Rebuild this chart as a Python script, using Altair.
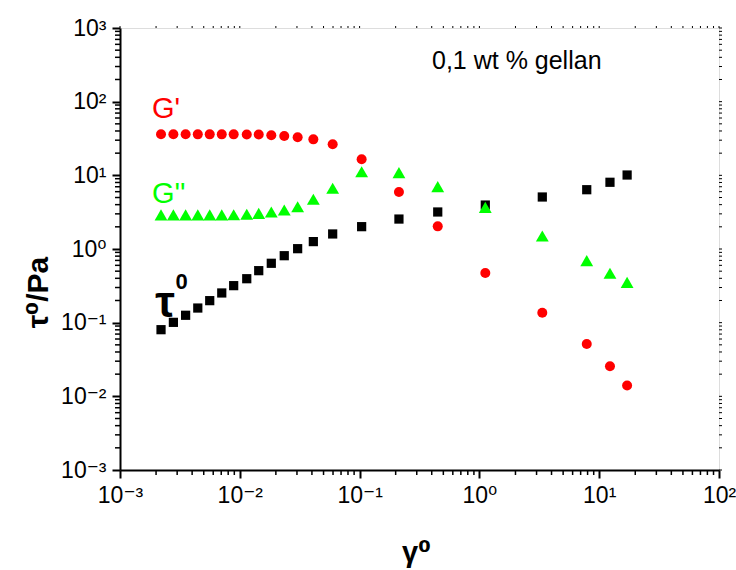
import math
import altair as alt
import pandas as pd

# strain amplitude (shared x for all series)
gamma = [0.00220, 0.00279, 0.00353, 0.00446, 0.00561, 0.00707, 0.00889, 0.01143,
         0.01439, 0.01832, 0.0235, 0.0304, 0.0411, 0.0596, 0.104, 0.213, 0.449,
         1.12, 3.35, 7.87, 12.3, 17.1]
g_storage = [36.2, 36.2, 36.2, 36.0, 36.0, 36.0, 36.0, 35.8, 35.8, 35.0, 34.2, 32.8,
             30.8, 26.4, 16.5, 5.94, 2.03, 0.472, 0.136, 0.0514, 0.0256, 0.0140]
g_loss = [2.90, 2.90, 2.90, 2.90, 2.90, 2.90, 2.92, 2.96, 3.05, 3.18, 3.38, 3.75,
          4.73, 6.67, 11.2, 10.9, 7.02, 3.68, 1.50, 0.694, 0.468, 0.353]
tau = [0.0803, 0.101, 0.126, 0.158, 0.199, 0.253, 0.318, 0.395, 0.508, 0.640, 0.811,
       1.01, 1.26, 1.60, 2.01, 2.55, 3.18, 3.95, 5.08, 6.38, 8.05, 10.1]

x_major = [1e-3, 1e-2, 1e-1, 1e0, 1e1, 1e2]
y_major = [1e-3, 1e-2, 1e-1, 1e0, 1e1, 1e2, 1e3]
x_minor = [k * 10.0 ** e for e in range(-3, 2) for k in range(2, 10)]
y_minor = [k * 10.0 ** e for e in range(-3, 3) for k in range(2, 10)]

# annotations (data coordinates)
ann_text = ["G'", "G''", "0,1 wt % gellan"]
ann_x = [0.00185, 0.00185, 0.402]
ann_y = [60.0, 4.22, 275.0]
ann_color = ["#FF0000", "#00FF00", "#000000"]
ann_size = [29, 29, 25]

tau_txt = ["τ"]
tau_txt_x = [0.00197]
tau_txt_y = [0.118]
zero_txt = ["0"]
zero_txt_x = [0.00290]
zero_txt_y = [0.29]

W, H = 599, 442
FONT = "Liberation Sans, DejaVu Sans, Arial"

sup = {-3: "⁻³", -2: "⁻²", -1: "⁻¹", 0: "⁰", 1: "¹", 2: "²", 3: "³"}


def label_expr(vals):
    parts = [(v * 3, "10" + sup[int(round(math.log10(v)))]) for v in vals]
    expr = ""
    for thr, lab in parts[:-1]:
        expr += f"datum.value < {thr} ? '{lab}' : "
    expr += f"'{parts[-1][1]}'"
    return expr


xscale = alt.Scale(type="log", domain=[1e-3, 1e2], nice=False)
yscale = alt.Scale(type="log", domain=[1e-3, 1e3], nice=False)

common_axis = dict(grid=False, domainColor="black", domainWidth=2, tickColor="black",
                   tickWidth=2, tickSize=8, labelColor="black", labelFont=FONT,
                   labelFontSize=23, titleFont=FONT, titleFontWeight="bold",
                   titleColor="black")

xaxis = alt.Axis(values=x_major, labelExpr=label_expr(x_major), title="γ⁰",
                 titleFontSize=29, titleX=296, titleY=82, titleBaseline="middle",
                 labelPadding=6, labelFlush=False, **common_axis)
yaxis = alt.Axis(values=y_major, labelExpr=label_expr(y_major), title="τ⁰/Pa",
                 titleFontSize=30, titleX=-82, titleY=264, titleAngle=270,
                 titleAlign="center", titleBaseline="middle",
                 labelPadding=6, labelFlush=False, **common_axis)


def X(field="x"):
    return alt.X(f"{field}:Q", scale=xscale, axis=xaxis)


def Y(field="y"):
    return alt.Y(f"{field}:Q", scale=yscale, axis=yaxis)


df_tau = pd.DataFrame({"x": gamma, "y": tau})
df_gs = pd.DataFrame({"x": gamma, "y": g_storage})
df_gl = pd.DataFrame({"x": gamma, "y": g_loss})

tau_layer = alt.Chart(df_tau).mark_point(shape="square", filled=True, size=85,
                                         color="black", opacity=1).encode(x=X(), y=Y())
gs_layer = alt.Chart(df_gs).mark_point(shape="circle", filled=True, size=100,
                                       color="#FF0000", opacity=1).encode(x=X(), y=Y())
gl_layer = alt.Chart(df_gl).mark_point(shape="triangle-up", filled=True, size=165,
                                       color="#00FF00", opacity=1).encode(x=X(), y=Y())

df_xminor = pd.DataFrame({"x": x_minor})
df_yminor = pd.DataFrame({"y": y_minor})
df_xall = pd.DataFrame({"x": x_minor + x_major})
df_yall = pd.DataFrame({"y": y_minor + y_major})

xminor_layer = alt.Chart(df_xminor).mark_rule(color="black", strokeWidth=1.5).encode(
    x=X(), y=alt.value(H), y2=alt.value(H + 5))
yminor_layer = alt.Chart(df_yminor).mark_rule(color="black", strokeWidth=1.5).encode(
    y=Y(), x=alt.value(0), x2=alt.value(-5))
top_layer = alt.Chart(df_xall).mark_rule(color="black", strokeWidth=1).encode(
    x=X(), y=alt.value(0), y2=alt.value(-2))
right_layer = alt.Chart(df_yall).mark_rule(color="black", strokeWidth=1).encode(
    y=Y(), x=alt.value(W), x2=alt.value(W + 3))

df_ann = pd.DataFrame({"x": ann_x, "y": ann_y, "t": ann_text, "c": ann_color,
                       "s": ann_size})
ann_layer = alt.Chart(df_ann).mark_text(align="left", baseline="alphabetic",
                                        font=FONT).encode(
    x=X(), y=Y(), text="t:N",
    color=alt.Color("c:N", scale=None),
    size=alt.Size("s:Q", scale=None))

tau_lab = alt.Chart(pd.DataFrame({"x": tau_txt_x, "y": tau_txt_y, "t": tau_txt})).mark_text(
    align="left", baseline="alphabetic", font=FONT, fontWeight="bold", fontSize=44,
    color="black").encode(x=X(), y=Y(), text="t:N")
zero_lab = alt.Chart(pd.DataFrame({"x": zero_txt_x, "y": zero_txt_y, "t": zero_txt})).mark_text(
    align="left", baseline="alphabetic", font=FONT, fontWeight="bold", fontSize=22,
    color="black").encode(x=X(), y=Y(), text="t:N")

chart = alt.layer(
    xminor_layer, yminor_layer, top_layer, right_layer,
    tau_layer, gs_layer, gl_layer, ann_layer, tau_lab, zero_lab
).properties(
    width=W, height=H,
    autosize=alt.AutoSizeParams(type="none"),
    padding={"left": 120, "top": 28, "right": 17, "bottom": 100},
).configure_view(stroke="black", strokeWidth=2).configure(background="white")

chart.save("out.html", embed_options={"renderer": "svg", "actions": False})
